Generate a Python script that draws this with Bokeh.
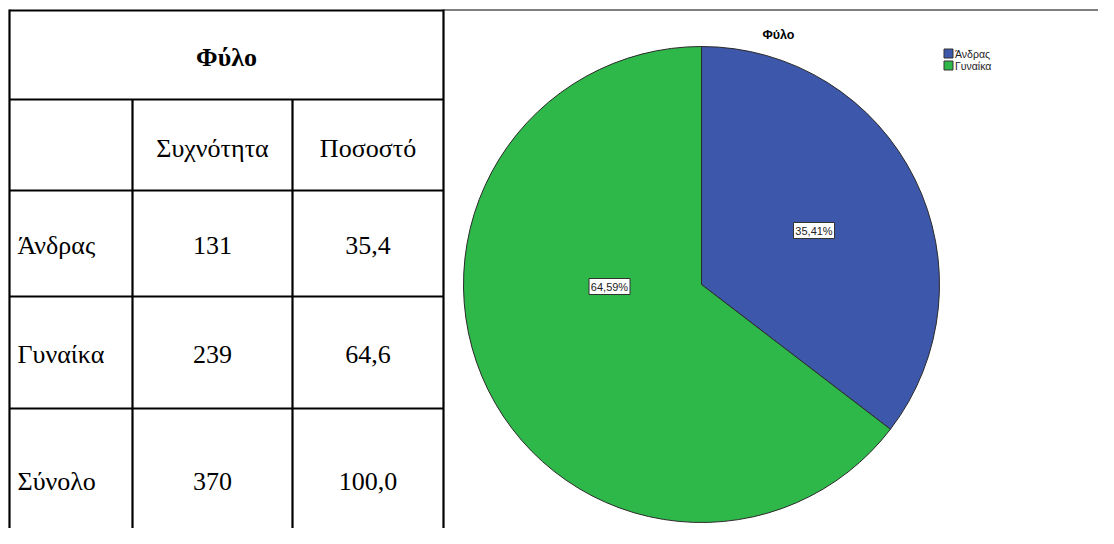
import math
from bokeh.plotting import figure
from bokeh.models import Range1d
from bokeh.core.properties import value
from bokeh.embed import file_html
from bokeh.resources import INLINE

# ---- data ----
title = "Φύλο"
col_headers = ["", "Συχνότητα", "Ποσοστό"]
categories = ["Άνδρας", "Γυναίκα"]
counts = [131, 239]
table_percent = ["35,4", "64,6"]
total_label = "Σύνολο"
total_count = 370
total_percent = "100,0"
colors = ["#3D57AA", "#2FB84A"]

# ---- layout (reference pixel coordinates) ----
FW, FH = 1098, 528
def Y(ry):
    return FH - ry

p = figure(width=FW, height=FH, output_backend="svg", toolbar_location=None,
           x_range=Range1d(0, FW), y_range=Range1d(0, FH),
           min_border=0)
p.axis.visible = False
p.grid.visible = False
p.outline_line_color = None
p.background_fill_color = "white"
p.border_fill_color = "white"

# table geometry
xl, xc1, xc2, xr = 9, 132, 292, 443
row_lines = [10, 99, 190, 296, 408]
bottom = 560

# horizontal lines
p.segment(x0=[xl] * len(row_lines), y0=[Y(r) for r in row_lines],
          x1=[xr] * len(row_lines), y1=[Y(r) for r in row_lines],
          line_color="black", line_width=2.2)
# vertical lines
p.segment(x0=[xl, xr, xc1, xc2], y0=[Y(9), Y(9), Y(99), Y(99)],
          x1=[xl, xr, xc1, xc2], y1=[Y(bottom)] * 4,
          line_color="black", line_width=2.2)
# top border of chart area
p.segment(x0=[xr], y0=[Y(9.5)], x1=[1104], y1=[Y(9.5)], line_color="black", line_width=1.2)

serif = value("Liberation Serif")
fs = "26px"
# header
p.text(x=[(xl + xr) / 2], y=[Y(57)], text=[title], text_font=serif, text_font_size=fs,
       text_font_style="bold", text_align="center", text_baseline="alphabetic", text_color="black")
# column headers
p.text(x=[(xc1 + xc2) / 2, (xc2 + xr) / 2], y=[Y(148)] * 2, text=col_headers[1:],
       text_font=serif, text_font_size=fs, text_align="center", text_baseline="alphabetic",
       text_color="black")
# body rows
row_baselines = [245, 354, 481]
row_names = categories + [total_label]
row_counts = [str(c) for c in counts] + [str(total_count)]
row_pcts = table_percent + [total_percent]
p.text(x=[17] * 3, y=[Y(b) for b in row_baselines], text=row_names, text_font=serif,
       text_font_size=fs, text_align="left", text_baseline="alphabetic", text_color="black")
p.text(x=[(xc1 + xc2) / 2] * 3, y=[Y(b) for b in row_baselines], text=row_counts, text_font=serif,
       text_font_size=fs, text_align="center", text_baseline="alphabetic", text_color="black")
p.text(x=[(xc2 + xr) / 2] * 3, y=[Y(b) for b in row_baselines], text=row_pcts, text_font=serif,
       text_font_size=fs, text_align="center", text_baseline="alphabetic", text_color="black")

# ---- pie ----
cx, cy, R = 701, 284, 238
total = sum(counts)
starts, ends = [], []
acc = 0.0
for c in counts:
    a0 = math.pi / 2 - 2 * math.pi * acc / total
    acc += c
    a1 = math.pi / 2 - 2 * math.pi * acc / total
    starts.append(a1)
    ends.append(a0)
p.wedge(x=[cx] * len(counts), y=[Y(cy)] * len(counts), radius=R,
        start_angle=starts, end_angle=ends, direction="anticlock",
        fill_color=colors, line_color="#2a2a2a", line_width=1)

# slice labels
pct_labels = [("%.2f" % (100 * c / total)).replace(".", ",") + "%" for c in counts]
label_pos = [(813.5, 230), (609, 286)]
sans = value("Liberation Sans")
p.rect(x=[lp[0] for lp in label_pos], y=[Y(lp[1]) for lp in label_pos], width=41, height=16,
       fill_color="white", line_color="#333333", line_width=1)
p.text(x=[lp[0] for lp in label_pos], y=[Y(lp[1]) for lp in label_pos], text=pct_labels,
       text_font=sans, text_font_size="11px", text_align="center", text_baseline="middle",
       text_color="#222222")

# chart title
p.text(x=[778], y=[Y(34)], text=[title], text_font=value("Liberation Sans"), text_font_size="12.5px",
       text_font_style="bold", text_align="center", text_baseline="middle", text_color="black")

# legend
leg_y = [53, 65]
p.rect(x=[948] * 2, y=[Y(v) for v in leg_y], width=9, height=9, fill_color=colors,
       line_color="#333333", line_width=1)
p.text(x=[954.5] * 2, y=[Y(v) for v in leg_y], text=categories, text_font=sans,
       text_font_size="10.5px", text_align="left", text_baseline="middle", text_color="#222222")

open("out.html", "w").write(file_html(p, INLINE))
